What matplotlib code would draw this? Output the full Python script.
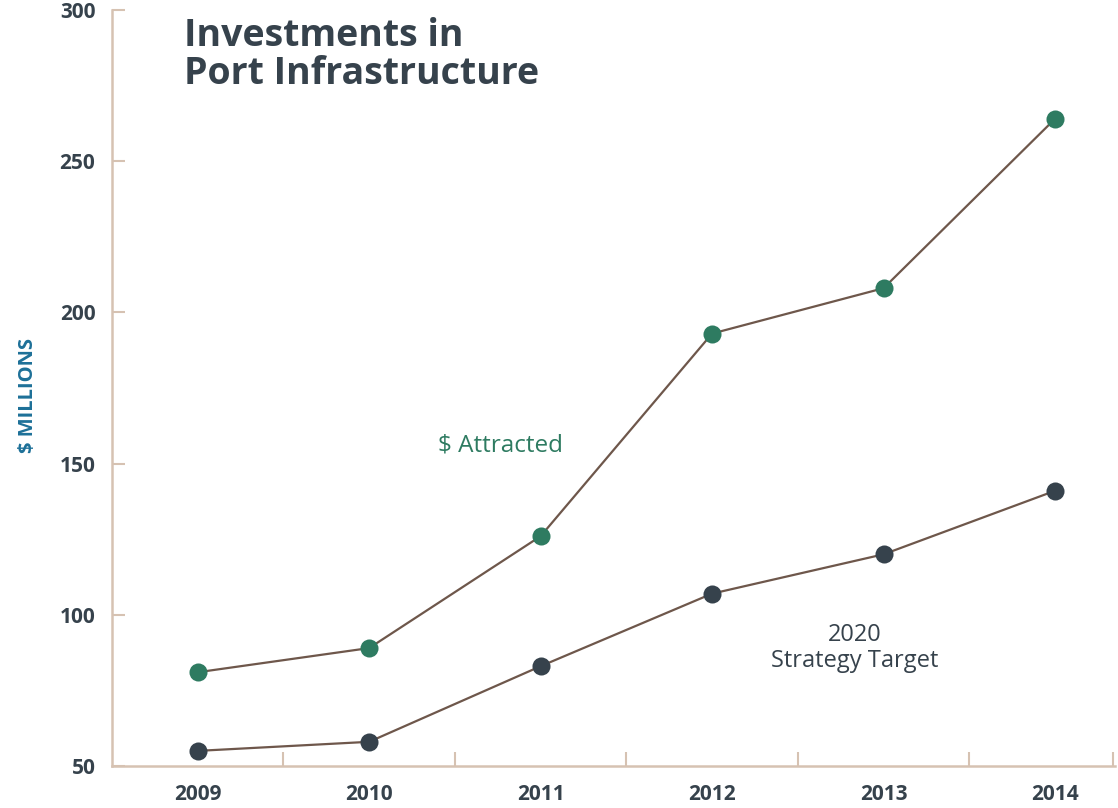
import numpy as np
import matplotlib.pyplot as plt

years = [2009, 2010, 2011, 2012, 2013, 2014]
attracted = [81, 89, 126, 193, 208, 264]
target = [55, 58, 83, 107, 120, 141]
y_ticks = [50, 100, 150, 200, 250, 300]

spine_col = "#d6c2b2"
line_col = "#6e574b"
green = "#2e7b61"
dark = "#36424c"
blue = "#1d7098"

plt.rcParams['font.family'] = ['Open Sans', 'DejaVu Sans']

fig = plt.figure(figsize=(11.18, 8.08), dpi=100)
ax = fig.add_axes([112/1118, 1-766/808, (1115-112)/1118, (766-10)/808])

ax.plot(years, attracted, color=line_col, lw=1.6, zorder=2)
ax.plot(years, target, color=line_col, lw=1.6, zorder=2)
ax.scatter(years, attracted, s=13**2, color=green, zorder=3, linewidths=0)
ax.scatter(years, target, s=13**2, color=dark, zorder=3, linewidths=0)

ax.set_xlim(2008.5, 2014.35)
ax.set_ylim(50, 300)

for s in ["top", "right"]:
    ax.spines[s].set_visible(False)
for s in ["left", "bottom"]:
    ax.spines[s].set_color(spine_col)
    ax.spines[s].set_linewidth(1.8)

ax.set_yticks(y_ticks)
ax.set_yticklabels([str(v) for v in y_ticks], fontsize=15, fontweight="bold", color=dark)
ax.tick_params(axis="y", direction="in", length=9, width=1.5, color=spine_col, pad=12)

ax.set_xticks(years)
ax.set_xticklabels([str(y) for y in years], fontsize=15, fontweight="bold", color=dark)
ax.tick_params(axis="x", which="major", length=0, pad=13)
ax.set_xticks(list(np.arange(2009.5, 2014, 1.0)) + [2014.34], minor=True)
ax.tick_params(axis="x", which="minor", direction="in", length=10, width=1.5, color=spine_col)

ax.set_ylabel("$ MILLIONS", fontsize=14.5, fontweight="bold", color=blue)
ax.yaxis.set_label_coords(-0.074, 0.49)

ax.text(2010.40, 156, "$ Attracted", fontsize=17.5, color=green, va="center", ha="left")
ax.text(2012.83, 89, "2020\nStrategy Target", fontsize=17, color=dark, va="center",
        ha="center", linespacing=1.1)

fig.text(184/1118, 1-17/808, "Investments in\nPort Infrastructure", fontsize=27,
         fontweight="bold", color=dark, va="top", ha="left", linespacing=1.0)

fig.savefig("out.png", dpi=100, facecolor="white")
